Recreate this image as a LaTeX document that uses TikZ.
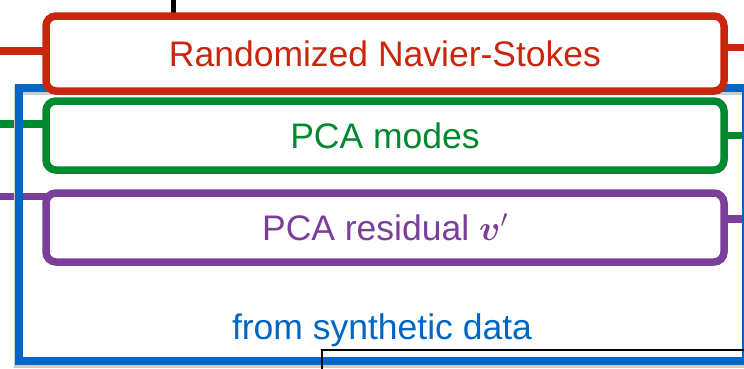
\documentclass[tikz,border=0pt]{standalone}
\usepackage{fix-cm}
\usepackage{amsmath}
\usepackage{bm}
\usepackage{fontspec}
\setmainfont{Liberation Sans}
\usepackage{xcolor}
\usepackage{tikz}
\usetikzlibrary{positioning}
\usetikzlibrary{backgrounds}

\definecolor{nsred}{RGB}{200,38,15}
\definecolor{pcagreen}{RGB}{0,137,47}
\definecolor{respurple}{RGB}{122,63,155}
\definecolor{synblue}{RGB}{0,102,195}

\begin{document}
\begin{tikzpicture}[x=1pt, y=-1pt, node distance=10pt,
    stagebox/.style={draw, fill=white, line width=7.5pt, rounded corners=10pt,
      minimum width=678pt, minimum height=69pt, inner sep=0pt, outer sep=0pt,
      font=\fontsize{35.5}{40}\selectfont},
    link/.style={line width=7.5pt}]
    \useasboundingbox (0,0) rectangle (744,368);

    \node[stagebox, draw=nsred, text=nsred, minimum height=75pt] (navst) at (385,53.5) {Randomized Navier-Stokes};
    \node[stagebox, draw=pcagreen, text=pcagreen] (modes) [below=of navst] {PCA modes};
    \node[stagebox, draw=respurple, text=respurple] (resid) [below=23pt of modes] {PCA residual $\bm{v}'$};
    \node[text=synblue, anchor=base, font=\fontsize{35.5}{40}\selectfont] (synth) at (382,339) {from synthetic data};

    % loose ends of the links
    \coordinate (topin) at (173,0);
    \coordinate (nsin) at (0,51);
    \coordinate (nsout) at (744,47.5);
    \coordinate (modesin) at (0,124);
    \coordinate (modesout) at (744,135.5);
    \coordinate (residin) at (0,196.5);
    \coordinate (residout) at (744,219);

    \begin{pgfonlayer}{background}
      \draw[link, line width=5pt] (topin) -- (topin |- navst.north);
      \draw[link, nsred] (nsin) -- (nsin -| navst.west);
      \draw[link, nsred] (navst.east |- nsout) -- (nsout);
      \draw[link, pcagreen] (modesin) -- (modesin -| modes.west);
      \draw[link, pcagreen] (modes.east |- modesout) -- (modesout);
      \draw[link, respurple] (residin) -- (residin -| resid.west);
      \draw[link, respurple] (resid.east |- residout) -- (residout);

      % frame round the synthetic data part
      \draw[black!20, line width=9pt] (18,90) rectangle (746,363);
      \draw[synblue, line width=7.5pt] (19,88) rectangle (746,361);
    \end{pgfonlayer}

    \draw[line width=2pt] (322,350) rectangle (800,420);
  \end{tikzpicture}
\end{document}
